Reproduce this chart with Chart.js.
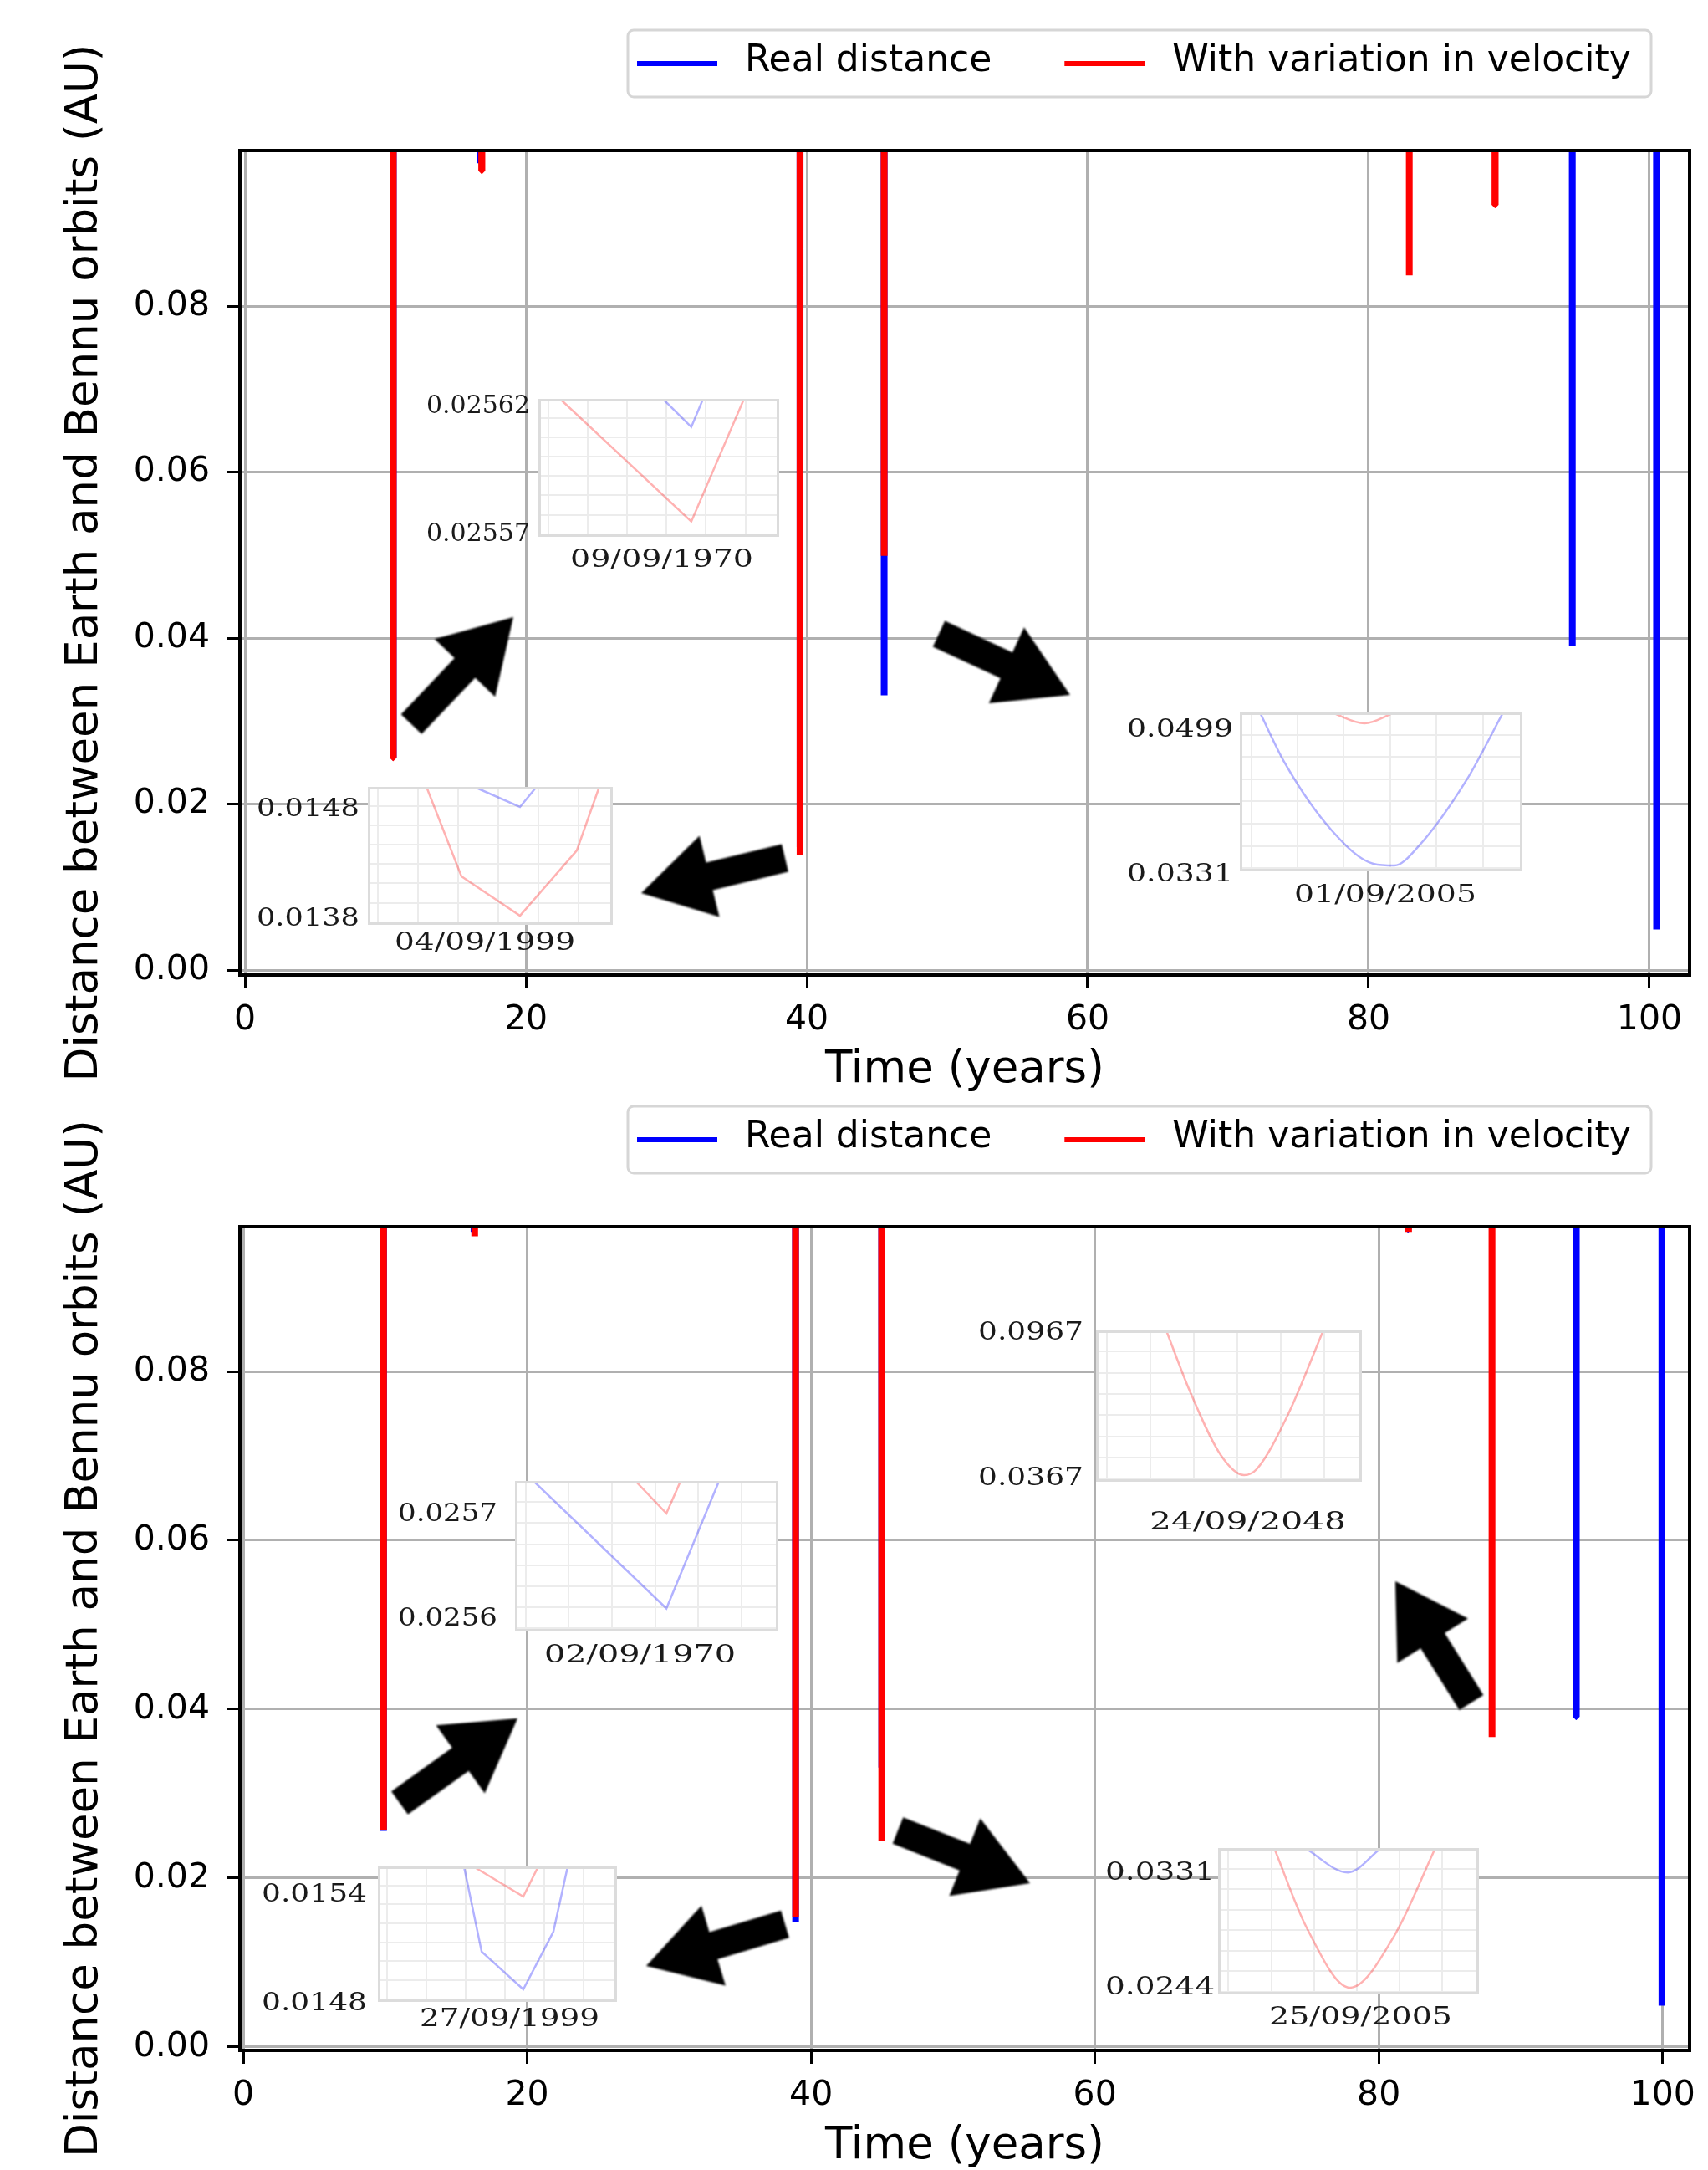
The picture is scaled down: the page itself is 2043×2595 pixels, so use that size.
<!DOCTYPE html>
<html>
<head>
<meta charset="utf-8">
<script src="https://cdn.jsdelivr.net/npm/chart.js@4.4.1/dist/chart.umd.min.js"></script>
<style>
  html, body { margin: 0; padding: 0; background: #fff; }
  #page { position: relative; width: 2043px; height: 2595px; overflow: hidden; background: #fff; }
  .panel { position: absolute; left: 0; width: 2043px; overflow: hidden; }
  .inset { position: absolute; }
  .lbl { position: absolute; font-family: "DejaVu Serif", serif; font-size: 29px; line-height: 1; color: #1a1a1a; white-space: nowrap; transform-origin: 0 50%; }
  #arrows { position: absolute; left: 0; top: 0; }
</style>
</head>
<body>
<div id="page">
  <div class="panel" style="top:1287px;height:1308px"><canvas id="bottomChart" width="2043" height="1308"></canvas></div>
  <div class="panel" style="top:0;height:1306px"><canvas id="topChart" width="2043" height="1308"></canvas></div>
</div>
<script>
// ---- data ----
const seriesNames = ["Real distance", "With variation in velocity"];
const seriesColors = ["#0000ff", "#ff0000"];
const xTicks = [0, 20, 40, 60, 80, 100];
const yTicks = [0, 0.02, 0.04, 0.06, 0.08];

// close approaches: time (years) and minimum distance (AU)
const topRealYears = [10.54, 16.78, 39.52, 45.5, 94.5, 100.5];
const topRealMin = [0.02562, 0.0972, 0.0148, 0.0331, 0.0391, 0.0049];
const topVariedYears = [10.54, 16.85, 39.52, 45.5, 82.9, 89.0];
const topVariedMin = [0.02557, 0.0963, 0.0138, 0.0499, 0.0837, 0.0922];

const botRealYears = [9.87, 16.25, 38.9, 44.97, 82.05, 93.9, 99.95];
const botRealMin = [0.0256, 0.0965, 0.0148, 0.0331, 0.0968, 0.0391, 0.0049];
const botVariedYears = [9.87, 16.3, 38.9, 44.97, 82.1, 87.97];
const botVariedMin = [0.0257, 0.096, 0.0154, 0.0244, 0.0965, 0.0367];

// distance between approaches is far above the plotted range
const farDistance = 0.3;

// zoomed insets: [position in window (%), distance (AU)]
const insA_red = [[9, 0.025623], [63.5, 0.025575], [85.4, 0.025623]];
const insA_blue = [[51.7, 0.025623], [63.5, 0.025612], [68.4, 0.025623]];
const insB_red = [[23.9, 0.0150], [38.2, 0.014182], [62.1, 0.013823], [85.3, 0.014418], [94.5, 0.0150]];
const insB_blue = [[43.3, 0.0150], [62.1, 0.014815], [68.9, 0.0150]];
const insC_blue = [[7.1, 0.05184], [16, 0.04592], [32.5, 0.03815], [47.3, 0.03427], [54.7, 0.03407], [63, 0.03621], [80.2, 0.04398], [93.2, 0.05184]];
const insC_red = [[32.5, 0.05184], [44.1, 0.05058], [54.7, 0.05184]];
const insD_blue = [[7, 0.025731], [57.5, 0.025609], [77.5, 0.025731]];
const insD_red = [[45.7, 0.025731], [57.5, 0.0257], [62.9, 0.025731]];
const insE_blue = [[36, 0.015552], [43.4, 0.015082], [60.8, 0.014874], [73.4, 0.015192], [79.4, 0.015552]];
const insE_red = [[39.9, 0.015552], [60.8, 0.015386], [67.1, 0.015552]];
const insF_red = [[26.4, 0.09739], [35.2, 0.07256], [46.9, 0.04601], [55.7, 0.03774], [60.4, 0.04015], [72, 0.06222], [85.5, 0.09739]];
const insG_red = [[21.5, 0.03494], [34, 0.02891], [50.6, 0.0244], [67.6, 0.02834], [83.3, 0.03494]];
const insG_blue = [[33.3, 0.03494], [49.7, 0.0331], [62.5, 0.03494]];

const insetLabels = [
  ["0.02562", "0.02557", "09/09/1970"],
  ["0.0148", "0.0138", "04/09/1999"],
  ["0.0499", "0.0331", "01/09/2005"],
  ["0.0257", "0.0256", "02/09/1970"],
  ["0.0154", "0.0148", "27/09/1999"],
  ["0.0967", "0.0367", "24/09/2048"],
  ["0.0331", "0.0244", "25/09/2005"]
];

// ---- helpers ----
const page = document.getElementById("page");

function spikes(years, mins) {
  const pts = [];
  years.forEach((t, i) => {
    pts.push({x: t - 0.02, y: farDistance}, {x: t, y: mins[i]}, {x: t + 0.02, y: farDistance});
  });
  return pts;
}

const frame = {
  id: "frame",
  afterDatasetsDraw(chart) {
    const a = chart.chartArea, ctx = chart.ctx;
    ctx.save();
    ctx.strokeStyle = "#000";
    ctx.lineWidth = 4;
    ctx.strokeRect(a.left, a.top, a.right - a.left, a.bottom - a.top);
    ctx.restore();
  }
};

const legendBox = {
  id: "legendBox",
  afterDraw(chart) {
    const ctx = chart.ctx;
    ctx.save();
    ctx.beginPath();
    ctx.roundRect(751, 36, 1224, 80, 7);
    ctx.fillStyle = "rgba(255,255,255,0.8)";
    ctx.fill();
    ctx.strokeStyle = "#d6d6d6";
    ctx.lineWidth = 3;
    ctx.stroke();
    ctx.font = "44px 'DejaVu Sans'";
    ctx.textBaseline = "middle";
    let x = 762;
    seriesNames.forEach((name, i) => {
      ctx.strokeStyle = seriesColors[i];
      ctx.lineWidth = 6;
      ctx.beginPath();
      ctx.moveTo(x, 76);
      ctx.lineTo(x + 96, 76);
      ctx.stroke();
      ctx.fillStyle = "#000";
      ctx.fillText(name, x + 129, 74);
      x += 129 + ctx.measureText(name).width + 87;
    });
    ctx.restore();
  }
};

function mainChart(id, xr, yr, xHeight, real, varied) {
  const font = {family: "'DejaVu Sans'", size: 41};
  return new Chart(document.getElementById(id), {
    type: "line",
    data: {
      datasets: [
        {label: seriesNames[0], data: real, borderColor: seriesColors[0], borderWidth: 8, order: 1},
        {label: seriesNames[1], data: varied, borderColor: seriesColors[1], borderWidth: 8, order: 0}
      ]
    },
    options: {
      responsive: false,
      animation: false,
      devicePixelRatio: 1,
      events: [],
      layout: {padding: {top: 180, right: 22, left: 0, bottom: 0}},
      elements: {
        point: {radius: 0},
        line: {borderJoinStyle: "bevel", borderCapStyle: "butt", tension: 0}
      },
      datasets: {line: {clip: 0}},
      plugins: {legend: {display: false}, tooltip: {enabled: false}},
      scales: {
        x: {
          type: "linear", min: xr[0], max: xr[1],
          afterBuildTicks: s => { s.ticks = xTicks.map(v => ({value: v})); },
          afterFit: s => { s.height = xHeight; },
          ticks: {font: font, color: "#000", padding: 14, maxRotation: 0, autoSkip: false, callback: v => v.toFixed(0)},
          grid: {color: "#b0b0b0", lineWidth: 3, tickLength: 16, tickColor: "#000", tickWidth: 3},
          border: {display: false},
          title: {display: true, text: "Time (years)", color: "#000",
                  font: {family: "'DejaVu Sans'", size: 53, lineHeight: 1}, padding: {top: 0, bottom: 1}}
        },
        y: {
          type: "linear", min: yr[0], max: yr[1],
          afterBuildTicks: s => { s.ticks = yTicks.map(v => ({value: v})); },
          afterFit: s => { s.width = 287; },
          ticks: {font: font, color: "#000", padding: 20, callback: v => v.toFixed(2)},
          grid: {color: "#b0b0b0", lineWidth: 3, tickLength: 16, tickColor: "#000", tickWidth: 3},
          border: {display: false},
          title: {display: true, text: "Distance between Earth and Bennu orbits (AU)", color: "#000",
                  font: {family: "'DejaVu Sans'", size: 53, lineHeight: 1}, padding: {top: 76, bottom: 0}}
        }
      }
    },
    plugins: [frame, legendBox]
  });
}

mainChart("topChart", [-0.36, 102.86], [-0.0006, 0.09874], 142,
  spikes(topRealYears, topRealMin), spikes(topVariedYears, topVariedMin));
mainChart("bottomChart", [-0.24, 101.9], [-0.0004, 0.09713], 143,
  spikes(botRealYears, botRealMin), spikes(botVariedYears, botVariedMin));

// ---- insets ----
const insetFrame = {
  id: "insetFrame",
  beforeDraw(chart) {
    const ctx = chart.ctx;
    ctx.save();
    ctx.fillStyle = "#fff";
    ctx.fillRect(0, 0, chart.width, chart.height);
    ctx.restore();
  },
  afterDraw(chart) {
    const ctx = chart.ctx;
    ctx.save();
    ctx.strokeStyle = "#dcdcdc";
    ctx.lineWidth = 3;
    ctx.strokeRect(1.5, 1.5, chart.width - 3, chart.height - 3);
    ctx.restore();
  }
};

function addLabel(text, x, cy, w) {
  const d = document.createElement("div");
  d.className = "lbl";
  d.textContent = text;
  page.appendChild(d);
  const nat = d.getBoundingClientRect().width;
  d.style.left = x + "px";
  d.style.top = (cy - 15) + "px";
  d.style.transform = "scaleX(" + (w / nat) + ")";
}

function inset(box, range, smooth, series, labels, lab) {
  addLabel(labels[0], lab.lx, lab.y1, lab.lw);
  addLabel(labels[1], lab.lx, lab.y2, lab.lw);
  addLabel(labels[2], lab.dx, lab.dy, lab.dw);
  const c = document.createElement("canvas");
  c.className = "inset";
  c.width = box[2];
  c.height = box[3];
  c.style.left = box[0] + "px";
  c.style.top = box[1] + "px";
  page.appendChild(c);
  const lo = range[0], hi = range[1];
  new Chart(c, {
    type: "line",
    data: {
      datasets: series.map(s => ({
        data: s[0].map(p => ({x: p[0], y: p[1]})),
        borderColor: s[1],
        borderWidth: 2.5,
        pointRadius: 0,
        cubicInterpolationMode: smooth ? "monotone" : "default",
        tension: 0,
        clip: 0
      }))
    },
    options: {
      responsive: false, animation: false, devicePixelRatio: 1, events: [],
      layout: {padding: 0},
      plugins: {legend: {display: false}, tooltip: {enabled: false}},
      scales: {
        x: {
          type: "linear", min: 0, max: 100,
          afterBuildTicks: s => { s.ticks = [4, 20.4, 36.8, 53.2, 69.6, 86].map(v => ({value: v})); },
          afterFit: s => { s.height = 0; },
          ticks: {display: false},
          grid: {color: "#ececec", lineWidth: 2, drawTicks: false},
          border: {display: false}
        },
        y: {
          type: "linear", min: lo, max: hi,
          afterBuildTicks: s => { s.ticks = [1, 2, 3, 4, 5, 6, 7].map(k => ({value: hi - k * 0.14 * (hi - lo)})); },
          afterFit: s => { s.width = 0; },
          ticks: {display: false},
          grid: {color: "#ececec", lineWidth: 2, drawTicks: false},
          border: {display: false}
        }
      }
    },
    plugins: [insetFrame]
  });
}

const RED = "rgba(255,0,0,0.3)", BLUE = "rgba(0,0,255,0.3)";
inset([644, 477, 288, 165], [0.025569, 0.025623], false, [[insA_red, RED], [insA_blue, BLUE]], insetLabels[0],
  {lx: 510, lw: 124, y1: 485, y2: 638, dx: 682, dw: 219, dy: 669});
inset([440, 941, 293, 165], [0.013739, 0.014998], false, [[insB_red, RED], [insB_blue, BLUE]], insetLabels[1],
  {lx: 307, lw: 123, y1: 967, y2: 1098, dx: 472, dw: 216, dy: 1127});
inset([1483, 852, 338, 190], [0.03339, 0.05184], true, [[insC_red, RED], [insC_blue, BLUE]], insetLabels[2],
  {lx: 1348, lw: 127, y1: 872, y2: 1045, dx: 1548, dw: 218, dy: 1070});
inset([616, 1771, 315, 180], [0.025587, 0.025731], false, [[insD_red, RED], [insD_blue, BLUE]], insetLabels[3],
  {lx: 476, lw: 119, y1: 1810, y2: 1935, dx: 651, dw: 229, dy: 1979});
inset([452, 2232, 286, 162], [0.014805, 0.015552], false, [[insE_red, RED], [insE_blue, BLUE]], insetLabels[4],
  {lx: 313, lw: 126, y1: 2265, y2: 2395, dx: 502, dw: 215, dy: 2414});
inset([1311, 1591, 318, 181], [0.03498, 0.09739], true, [[insF_red, RED]], insetLabels[5],
  {lx: 1170, lw: 126, y1: 1593, y2: 1767, dx: 1375, dw: 235, dy: 1820});
inset([1457, 2210, 312, 175], [0.02389, 0.03494], true, [[insG_red, RED], [insG_blue, BLUE]], insetLabels[6],
  {lx: 1322, lw: 131, y1: 2239, y2: 2376, dx: 1518, dw: 219, dy: 2412});

// ---- arrows ----
const arrows = [
  [492, 866, 614, 738], [939, 1026, 767, 1068], [1123, 758, 1280, 831],
  [478, 2156, 619, 2055], [939, 2301, 773, 2351], [1074, 2189, 1232, 2252], [1760, 2036, 1669, 1891]
];
const NS = "http://www.w3.org/2000/svg";
const svg = document.createElementNS(NS, "svg");
svg.setAttribute("id", "arrows");
svg.setAttribute("width", "2043");
svg.setAttribute("height", "2595");
svg.innerHTML = '<defs><filter id="soft"><feGaussianBlur stdDeviation="1.2"/></filter></defs>';
arrows.forEach(a => {
  const [x1, y1, x2, y2] = a;
  const L = Math.hypot(x2 - x1, y2 - y1);
  const ux = (x2 - x1) / L, uy = (y2 - y1) / L, nx = -uy, ny = ux;
  const sw = 17, hw = 50, hl = 84;
  const bx = x2 - ux * hl, by = y2 - uy * hl;
  const pts = [
    [x1 + nx * sw, y1 + ny * sw], [bx + nx * sw, by + ny * sw], [bx + nx * hw, by + ny * hw],
    [x2, y2],
    [bx - nx * hw, by - ny * hw], [bx - nx * sw, by - ny * sw], [x1 - nx * sw, y1 - ny * sw]
  ];
  const poly = document.createElementNS(NS, "polygon");
  poly.setAttribute("points", pts.map(p => p[0].toFixed(1) + "," + p[1].toFixed(1)).join(" "));
  poly.setAttribute("fill", "#000");
  poly.setAttribute("filter", "url(#soft)");
  svg.appendChild(poly);
});
page.appendChild(svg);
</script>
</body>
</html>
